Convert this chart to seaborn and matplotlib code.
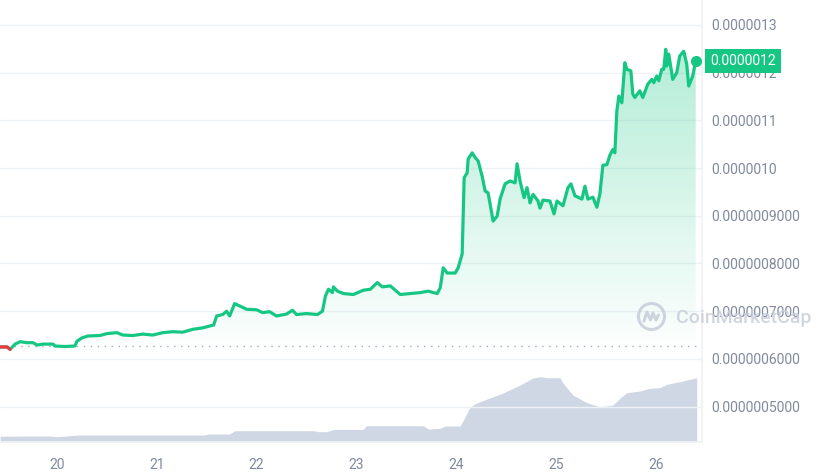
import numpy as np
import matplotlib
matplotlib.use("Agg")
import matplotlib.pyplot as plt
import matplotlib.transforms as mtransforms
from matplotlib.colors import LinearSegmentedColormap
from matplotlib.patches import Circle
import seaborn as sns

# price, in units of 1e-7 USD, against day of month
days = [19.43, 19.50, 19.53, 19.58, 19.63, 19.70, 19.76, 19.80, 19.86, 19.96,
        19.98, 20.08, 20.18, 20.20, 20.25, 20.31, 20.43, 20.50, 20.60, 20.66,
        20.76, 20.86, 20.96, 21.06, 21.16, 21.26, 21.36, 21.46, 21.53, 21.57,
        21.60, 21.66, 21.70, 21.73, 21.78, 21.83, 21.90, 22.00, 22.06, 22.13,
        22.20, 22.30, 22.36, 22.40, 22.50, 22.61, 22.66, 22.69, 22.72, 22.76,
        22.77, 22.81, 22.87, 22.97, 23.07, 23.14, 23.21, 23.26, 23.34, 23.44,
        23.54, 23.64, 23.72, 23.81, 23.84, 23.87, 23.91, 23.99, 24.02, 24.06,
        24.08, 24.11, 24.12, 24.16, 24.19, 24.22, 24.26, 24.29, 24.32, 24.37,
        24.41, 24.44, 24.49, 24.54, 24.59, 24.61, 24.64, 24.68, 24.71, 24.74,
        24.77, 24.82, 24.84, 24.87, 24.94, 24.98, 25.01, 25.07, 25.12, 25.15,
        25.19, 25.26, 25.29, 25.32, 25.37, 25.41, 25.44, 25.47, 25.51, 25.54,
        25.57, 25.59, 25.61, 25.63, 25.66, 25.69, 25.71, 25.75, 25.77, 25.79,
        25.84, 25.87, 25.92, 25.96, 25.98, 26.01, 26.03, 26.06, 26.08, 26.10,
        26.11, 26.13, 26.17, 26.21, 26.24, 26.28, 26.31, 26.33, 26.37, 26.40]
price_e7 = [6.25, 6.25, 6.20, 6.31, 6.36, 6.34, 6.34, 6.29, 6.31, 6.31,
            6.27, 6.26, 6.27, 6.37, 6.44, 6.48, 6.49, 6.53, 6.55, 6.50,
            6.49, 6.52, 6.50, 6.55, 6.57, 6.56, 6.62, 6.65, 6.69, 6.71,
            6.90, 6.93, 7.00, 6.90, 7.16, 7.11, 7.04, 7.03, 6.97, 6.99,
            6.90, 6.94, 7.02, 6.93, 6.95, 6.93, 7.00, 7.32, 7.46, 7.39,
            7.51, 7.42, 7.37, 7.35, 7.44, 7.46, 7.60, 7.51, 7.53, 7.35,
            7.37, 7.39, 7.42, 7.37, 7.49, 7.91, 7.80, 7.80, 7.91, 8.20,
            9.80, 9.90, 10.19, 10.32, 10.22, 10.15, 9.83, 9.52, 9.48, 8.89,
            8.99, 9.35, 9.67, 9.73, 9.69, 10.09, 9.73, 9.38, 9.59, 9.27,
            9.45, 9.31, 9.16, 9.33, 9.31, 9.04, 9.31, 9.21, 9.59, 9.67,
            9.42, 9.35, 9.62, 9.35, 9.39, 9.18, 9.46, 10.06, 10.07, 10.27,
            10.39, 10.32, 11.20, 11.51, 11.37, 12.21, 12.07, 12.04, 11.55, 11.48,
            11.62, 11.48, 11.76, 11.86, 11.79, 11.93, 11.83, 12.07, 12.07, 12.49,
            12.14, 12.39, 11.86, 12.00, 12.35, 12.45, 12.18, 11.72, 11.93, 12.25]
open_price_e7 = 6.26

# 24h volume (relative units)
vol_days = [19.43, 19.93, 20.00, 20.21, 21.48, 21.52, 21.73, 21.78, 22.57, 22.62,
            22.70, 22.78, 23.07, 23.10, 23.67, 23.72, 23.84, 23.89, 24.04, 24.09,
            24.14, 24.21, 24.31, 24.47, 24.64, 24.77, 24.84, 24.91, 25.04, 25.07,
            25.17, 25.31, 25.44, 25.57, 25.64, 25.71, 25.84, 25.94, 26.04, 26.11,
            26.24, 26.41]
volume = [5.5, 5.7, 5.0, 6.7, 6.7, 7.7, 7.7, 11.0, 11.0, 10.0,
          10.0, 12.3, 12.3, 16.0, 16.0, 12.7, 13.4, 15.7, 15.7, 25.0,
          35.0, 39.0, 42.7, 48.7, 56.7, 63.7, 65.0, 64.0, 64.0, 58.7,
          46.7, 39.0, 35.0, 36.7, 43.4, 49.0, 50.7, 53.4, 54.0, 57.4,
          60.0, 64.0]

ytick_values = [5, 6, 7, 8, 9, 10, 11, 12, 13]
ytick_labels = ["0.0000005000", "0.0000006000", "0.0000007000", "0.0000008000",
                "0.0000009000", "0.0000010", "0.0000011", "0.0000012", "0.0000013"]
xtick_days = [20, 21, 22, 23, 24, 25, 26]
last_label = "0.0000012"

GREEN = "#16c784"
RED = "#ea3943"
GREY = "#808a9d"
GRID = "#eff2f5"
VOL = "#cfd6e4"

sns.set_theme(style="white")
plt.rcParams["font.family"] = ["Roboto", "DejaVu Sans"]

fig = plt.figure(figsize=(8.22, 4.75), dpi=100)
ax = fig.add_axes([0, 0.0701, 0.854, 0.9299])

# volume panel, behind the price axes
axv = ax.twinx()
axv.fill_between(vol_days, volume, 0, color=VOL, lw=0)
axv.set_ylim(0, max(volume) * 6.8)
axv.set_axis_off()
ax.set_zorder(axv.get_zorder() + 1)
ax.patch.set_visible(False)

for v in ytick_values:
    ax.axhline(v, color=GRID, lw=1, zorder=0)

# gradient area under the price line
price = np.array(price_e7)
poly = ax.fill_between(days, price_e7, 6.0, color="none", lw=0)
grad = np.linspace(0, 1, 256).reshape(-1, 1)
cmap = LinearSegmentedColormap.from_list(
    "fade", [(0.086, 0.78, 0.52, 0.0), (0.086, 0.78, 0.52, 0.32)])
im = ax.imshow(grad, extent=[days[0], days[-1], 6.0, price.max()],
               origin="lower", cmap=cmap, aspect="auto", zorder=1)
im.set_clip_path(poly.get_paths()[0], transform=ax.transData)

ax.axhline(open_price_e7, color="#a6adbd", ls=(0, (1, 4)), lw=1, zorder=2)

sns.lineplot(x=days, y=price_e7, ax=ax, color=GREEN, lw=2.3, zorder=3)
red = np.where(price < open_price_e7, price, np.nan)
ax.plot(days, red, color=RED, lw=2.3, zorder=4)
ax.plot(days[-1], price_e7[-1], "o", color=GREEN, ms=7, zorder=5)

ax.set_xlim(19.429, 26.463)
ax.set_ylim(4.264, 13.524)

ax.yaxis.tick_right()
ax.set_yticks(ytick_values, ytick_labels)
ax.set_xticks(xtick_days, [str(d) for d in xtick_days])
ax.tick_params(axis="y", length=0, pad=7, labelcolor=GREY, labelsize=10)
ax.tick_params(axis="x", length=3, color=GRID, pad=9, labelcolor=GREY, labelsize=10)
ax.set_xlabel("")
ax.set_ylabel("")
for side in ["left", "top"]:
    ax.spines[side].set_visible(False)
for side in ["right", "bottom"]:
    ax.spines[side].set_color(GRID)

# current price badge
tr = mtransforms.blended_transform_factory(ax.transAxes, ax.transData)
ax.annotate(last_label, xy=(1.0, price_e7[-1]), xycoords=tr,
            xytext=(6, 0), textcoords="offset points", ha="left", va="center",
            color="white", fontsize=10, annotation_clip=False,
            bbox=dict(boxstyle="square,pad=0.35", fc=GREEN, ec="none"))

# watermark
fig.patches.append(Circle((6.515, 1.585), 0.13, transform=fig.dpi_scale_trans,
                          fill=False, ec="#c8cedb", lw=2.2, alpha=0.85, zorder=10))
fig.lines.append(plt.Line2D([6.44, 6.47, 6.505, 6.53, 6.56, 6.585],
                            [1.54, 1.63, 1.55, 1.62, 1.55, 1.60],
                            transform=fig.dpi_scale_trans, color="#c8cedb",
                            lw=2.2, alpha=0.85, zorder=10))
fig.text(676 / 822, 1 - 318 / 475, "CoinMarketCap", fontsize=14, fontweight="medium",
         color="#c8cedb", alpha=0.85, va="center", ha="left", zorder=10)

fig.savefig("out.png", dpi=100)
